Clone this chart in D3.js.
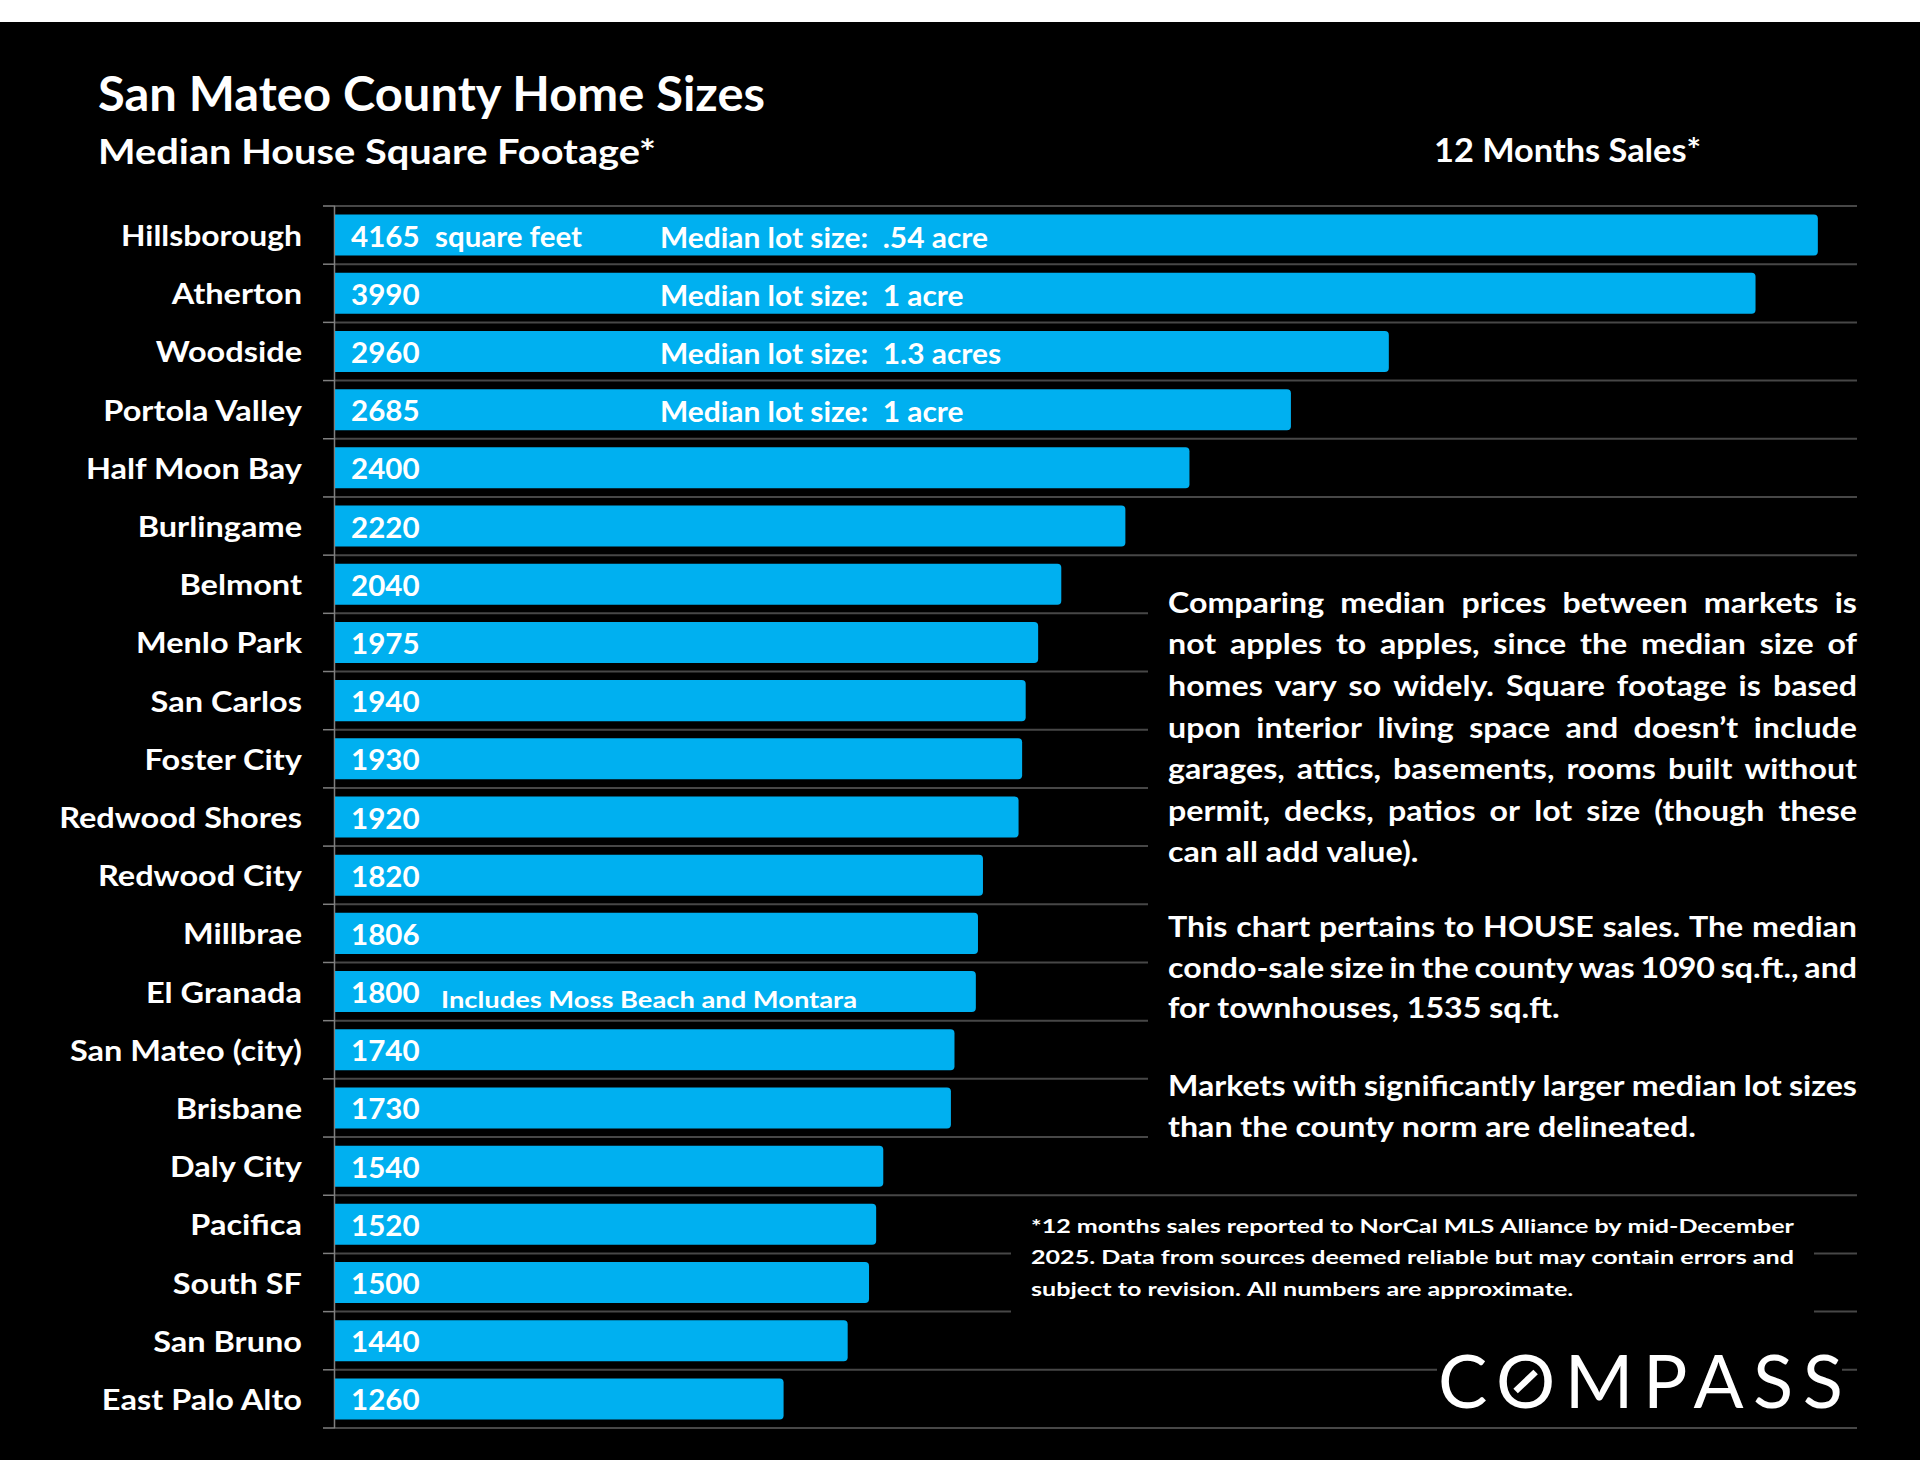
<!DOCTYPE html>
<html><head><meta charset="utf-8">
<script src="https://cdn.jsdelivr.net/npm/d3@7/dist/d3.min.js"></script>
<style>
html,body{margin:0;padding:0;background:#fff;}
svg{display:block;}
text{font-family:Lato,"Open Sans",sans-serif;font-weight:700;fill:#fff;white-space:pre;}
</style></head><body>
<svg id="chart" width="1920" height="1483"></svg>
<script>
// ---------------- DATA ----------------
const categories = ["Hillsborough","Atherton","Woodside","Portola Valley","Half Moon Bay","Burlingame","Belmont","Menlo Park","San Carlos","Foster City","Redwood Shores","Redwood City","Millbrae","El Granada","San Mateo (city)","Brisbane","Daly City","Pacifica","South SF","San Bruno","East Palo Alto"];
const values = [4165,3990,2960,2685,2400,2220,2040,1975,1940,1930,1920,1820,1806,1800,1740,1730,1540,1520,1500,1440,1260];
const lotCities = ["Hillsborough","Atherton","Woodside","Portola Valley"];
const lotSizes = [".54 acre","1 acre","1.3 acres","1 acre"];
const lotPrefix = "Median lot size:  ";
const unitNote = {city:"Hillsborough", text:"square feet"};
const includesNote = {city:"El Granada", text:"Includes Moss Beach and Montara"};
const titleText = "San Mateo County Home Sizes";
const subtitleText = "Median House Square Footage*";
const periodText = "12 Months Sales*";
const paragraphs = [
  ["Comparing median prices between markets is",
   "not apples to apples, since the median size of",
   "homes vary so widely. Square footage is based",
   "upon interior living space and doesn\u2019t include",
   "garages, attics, basements, rooms built without",
   "permit, decks, patios or lot size (though these",
   "can all add value)."],
  ["This chart pertains to HOUSE sales. The median",
   "condo-sale size in the county was 1090 sq.ft., and",
   "for townhouses, 1535 sq.ft."],
  ["Markets with significantly larger median lot sizes",
   "than the county norm are delineated."]
];
const footnoteLines = [
  "*12 months sales reported to NorCal MLS Alliance by mid-December",
  "2025. Data from sources deemed reliable but may contain errors and",
  "subject to revision. All numbers are approximate."
];
const logoText = "COMPASS";

// ---------------- DRAW ----------------
const svg = d3.select("#chart");

function measure(str, size, weight){
  const t = svg.append("text").attr("font-size", size).style("font-weight", weight||700).text(str);
  const w = t.node().getComputedTextLength();
  t.remove();
  return w;
}
function addText(parent, str, x, y, size, opts){
  opts = opts || {};
  const t = parent.append("text").attr("y", y).attr("font-size", size).text(str);
  if (opts.weight) t.style("font-weight", opts.weight);
  const w = t.node().getComputedTextLength();
  const tw = opts.width != null ? opts.width : w * (opts.k || 1);
  let x0 = x;
  if (opts.anchor === "end") x0 = x - tw;
  else if (opts.anchor === "middle") x0 = x - tw / 2;
  t.attr("x", x0).attr("textLength", tw).attr("lengthAdjust", opts.adjust || "spacingAndGlyphs");
  return t;
}
function wordLine(parent, line, x0, x1, y, size, k, justify){
  const words = line.split(" ");
  const ws = words.map(w => measure(w, size) * k);
  const space = (measure("a a", size) - measure("aa", size)) * k;
  const gap = (justify && words.length > 1) ? (x1 - x0 - d3.sum(ws)) / (words.length - 1) : space;
  let cx = x0;
  words.forEach((w, i) => { addText(parent, w, cx, y, size, {width: ws[i]}); cx += ws[i] + gap; });
}

function draw(){
  svg.append("rect").attr("x", 0).attr("y", 22).attr("width", 1920).attr("height", 1438).attr("fill", "#000");

  const x = d3.scaleLinear().domain([0, 4275]).range([335, 1857]);
  const y = d3.scaleBand().domain(categories).range([206, 1428]).paddingInner(0.295).paddingOuter(0.1475);
  const step = y.step();
  const top = y.range()[0];
  const bounds = d3.range(categories.length + 1).map(i => top + i * step);

  // grid lines
  svg.append("g").selectAll("line").data(bounds).join("line")
    .attr("x1", 335).attr("x2", x.range()[1]).attr("y1", d => d).attr("y2", d => d)
    .attr("stroke", "#474747").attr("stroke-width", 2);
  // ticks
  svg.append("g").selectAll("line").data(bounds).join("line")
    .attr("x1", 323).attr("x2", 335).attr("y1", d => d).attr("y2", d => d)
    .attr("stroke", "#7f7f7f").attr("stroke-width", 1.5);
  // axis line
  svg.append("line").attr("x1", 334.5).attr("x2", 334.5).attr("y1", top).attr("y2", bounds[bounds.length-1])
    .attr("stroke", "#7f7f7f").attr("stroke-width", 1.5);

  // bars
  const r = 4;
  svg.append("g").selectAll("path").data(categories).join("path")
    .attr("fill", "#00B0F0")
    .attr("d", (c, i) => {
      const x0 = x(0), x1 = x(values[i]), y0 = y(c), h = y.bandwidth();
      return `M${x0},${y0}H${x1 - r}Q${x1},${y0} ${x1},${y0 + r}V${y0 + h - r}Q${x1},${y0 + h} ${x1 - r},${y0 + h}H${x0}Z`;
    });

  const cy = c => y(c) + y.bandwidth() / 2;

  // category labels
  const labSize = 29.3;
  const kLab = 1.02 * 181 / measure("Hillsborough", labSize);
  const gLab = svg.append("g");
  categories.forEach(c => addText(gLab, c, 302, cy(c) + 11, labSize, {anchor: "end", k: c === "Hillsborough" ? kLab / 1.02 : kLab}));

  // value labels
  const kVal = 68.5 / measure("4165", labSize);
  const gVal = svg.append("g");
  categories.forEach((c, i) => addText(gVal, String(values[i]), 351, cy(c) + 11.5, labSize, {k: kVal}));

  // notes inside bars
  addText(svg, unitNote.text, 435, cy(unitNote.city) + 11.5, labSize, {width: 147});
  const kLot = 328 / measure(lotPrefix + lotSizes[0], labSize);
  lotCities.forEach((c, i) => addText(svg, lotPrefix + lotSizes[i], 660, cy(c) + 12.5, labSize, {k: kLot}));
  addText(svg, includesNote.text, 441, cy(includesNote.city) + 16.5, 23, {width: 416});

  // titles
  addText(svg, titleText, 98, 111, 47, {width: 667});
  addText(svg, subtitleText, 98, 163.5, 35, {width: 558});
  addText(svg, periodText, 1434, 162, 32, {width: 267});

  // paragraph box
  svg.append("rect").attr("x", 1148).attr("y", 575).attr("width", 772).attr("height", 585).attr("fill", "#000");
  const parSize = 29;
  const kPar = kLab;
  const gPar = svg.append("g");
  const parStarts = [612.7, 937.4, 1096.4];
  const parLead = [41.6, 40.2, 40.2];
  paragraphs.forEach((p, pi) => {
    p.forEach((line, li) => {
      wordLine(gPar, line, 1168, 1857, parStarts[pi] + li * parLead[pi], parSize, kPar, li < p.length - 1);
    });
  });

  // footnote box
  svg.append("rect").attr("x", 1011).attr("y", 1205).attr("width", 803).attr("height", 125).attr("fill", "#000");
  const fSize = 19.5;
  const kFoot = 763 / measure(footnoteLines[0], fSize);
  const gFoot = svg.append("g");
  footnoteLines.forEach((line, li) => {
    wordLine(gFoot, line, 1031, 1794, 1232.5 + li * 31.8, fSize, kFoot, li < footnoteLines.length - 1);
  });

  // logo
  svg.append("rect").attr("x", 1437).attr("y", 1345).attr("width", 405).attr("height", 73).attr("fill", "#000");
  const logo = svg.append("text").attr("x", 1438).attr("y", 1408).attr("font-size", 74)
    .style("font-weight", 400).text(logoText)
    .attr("textLength", 405).attr("lengthAdjust", "spacing");
  const n = logo.node();
  const s = n.getStartPositionOfChar(1), e = n.getEndPositionOfChar(1);
  const ocx = (s.x + e.x) / 2, ocy = 1408 - 26.5;
  svg.append("line").attr("x1", ocx - 10).attr("y1", ocy + 9.5).attr("x2", ocx + 10).attr("y2", ocy - 9.5)
    .attr("stroke", "#fff").attr("stroke-width", 6.5);
}

if (document.fonts && document.fonts.ready) document.fonts.ready.then(draw); else draw();
</script>
</body></html>
